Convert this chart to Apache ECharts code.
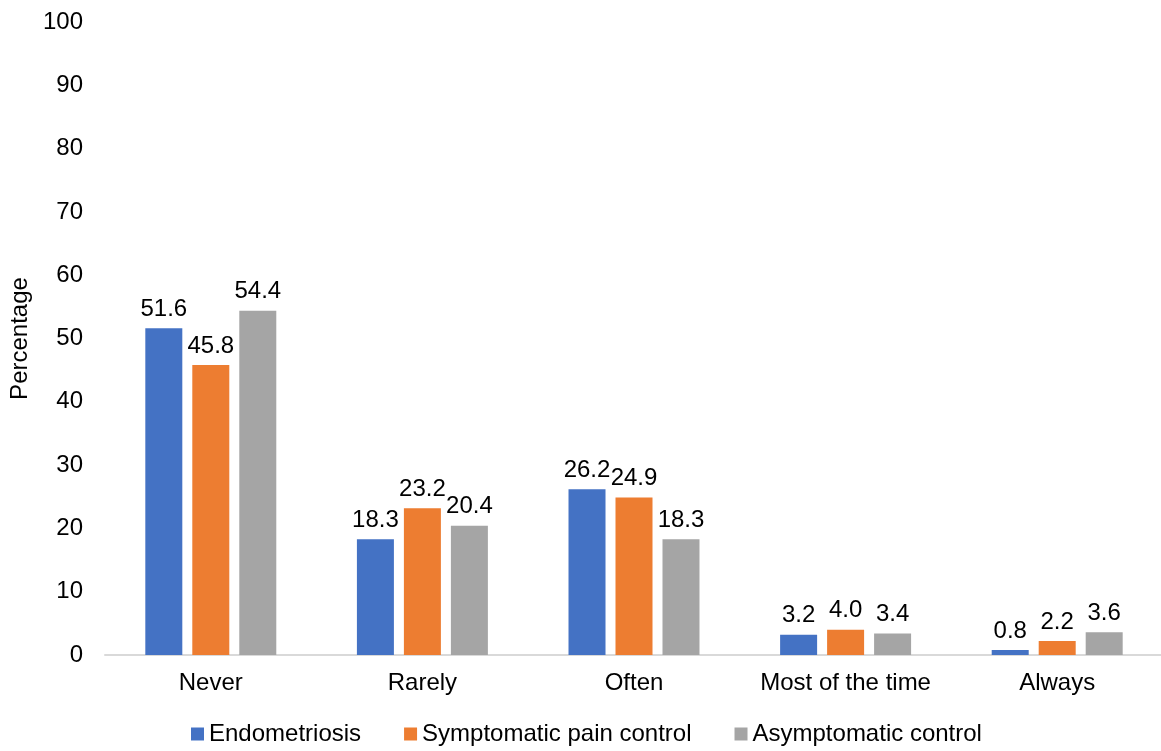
<!DOCTYPE html>
<html>
<head>
<meta charset="utf-8">
<script src="https://cdn.jsdelivr.net/npm/echarts@6/dist/echarts.min.js"></script>
<style>
  html, body { margin: 0; padding: 0; background: #fff; }
  #chart { width: 1161px; height: 751px; }
</style>
</head>
<body>
<div id="chart"></div>
<script>
// Frequency responses by group (percent)
const categories = ['Never', 'Rarely', 'Often', 'Most of the time', 'Always'];
const endometriosis = [51.6, 18.3, 26.2, 3.2, 0.8];
const symptomaticPain = [45.8, 23.2, 24.9, 4.0, 2.2];
const asymptomatic = [54.4, 20.4, 18.3, 3.4, 3.6];
const seriesNames = ['Endometriosis', 'Symptomatic pain control', 'Asymptomatic control'];
const yTicks = { min: 0, max: 100, interval: 10 };

const FONT = '"Liberation Sans", Arial, sans-serif';
const FS = 24;
const TEXT = '#000000';

function barSeries(name, data, color) {
  return {
    name: name,
    type: 'bar',
    data: data,
    barWidth: 37,
    barGap: '27%',
    itemStyle: { color: color },
    label: {
      show: true,
      position: 'top',
      distance: 7,
      color: TEXT,
      fontFamily: FONT,
      fontSize: FS,
      formatter: p => p.value.toFixed(1)
    }
  };
}

const chart = echarts.init(document.getElementById('chart'));
chart.setOption({
  animation: false,
  backgroundColor: '#ffffff',
  grid: {
    left: 105, width: 1058, top: 22, bottom: 96,
    containLabel: false, outerBoundsMode: 'none'
  },
  legend: {
    data: seriesNames,
    bottom: 0,
    left: 186,
    itemWidth: 13,
    itemHeight: 13,
    itemGap: 43,
    icon: 'rect',
    textStyle: { color: TEXT, fontFamily: FONT, fontSize: FS }
  },
  xAxis: {
    type: 'category',
    data: categories,
    axisLine: { lineStyle: { color: '#d9d9d9', width: 2 } },
    axisTick: { show: false },
    axisLabel: { color: TEXT, fontFamily: FONT, fontSize: FS, margin: 16, interval: 0 }
  },
  yAxis: {
    type: 'value',
    min: yTicks.min,
    max: yTicks.max,
    interval: yTicks.interval,
    name: 'Percentage',
    nameLocation: 'middle',
    nameGap: 73,
    nameTextStyle: { color: TEXT, fontFamily: FONT, fontSize: FS },
    axisLine: { show: false },
    axisTick: { show: false },
    splitLine: { show: false },
    axisLabel: { color: TEXT, fontFamily: FONT, fontSize: FS, margin: 22 }
  },
  series: [
    barSeries(seriesNames[0], endometriosis, '#4472c4'),
    barSeries(seriesNames[1], symptomaticPain, '#ed7d31'),
    barSeries(seriesNames[2], asymptomatic, '#a5a5a5')
  ]
});
</script>
</body>
</html>
